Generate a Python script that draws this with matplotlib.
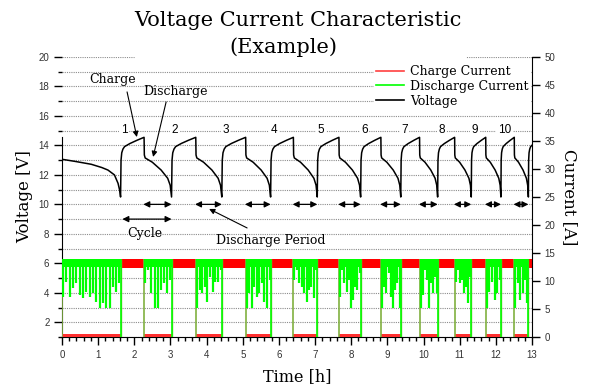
import numpy as np
import matplotlib.pyplot as plt
from matplotlib.ticker import MultipleLocator
from matplotlib.lines import Line2D

SERIF = 'DejaVu Serif'
SANS = 'Liberation Sans'

# discharge periods [h]
dis_start = [0.0, 2.27, 3.70, 5.08, 6.40, 7.66, 8.82, 9.89, 10.86, 11.72, 12.51]
dis_end = [1.62, 3.03, 4.42, 5.77, 7.06, 8.26, 9.37, 10.39, 11.32, 12.14, 12.90]
last_charge_end = 13.27

# voltage
first_dis_t = [0.0, 0.4, 0.81, 1.1, 1.27, 1.45, 1.55, 1.60, 1.62]
first_dis_v = [13.06, 12.9, 12.72, 12.5, 12.33, 12.0, 11.43, 10.9, 10.5]
chg_frac = [0.0, 0.02, 0.05, 0.1, 0.17, 0.4, 0.7, 1.0]
chg_v = [10.5, 13.0, 13.5, 13.75, 13.92, 14.13, 14.35, 14.55]
dis_frac = [0.0, 0.01, 0.04, 0.3, 0.62, 0.86, 0.95, 1.0]
dis_v = [14.55, 13.35, 13.15, 12.86, 12.33, 11.77, 11.3, 10.5]

# currents [A]
dis_current = 14.0
dis_band_low = 12.5
chg_current = 14.0
chg_band_low = 12.3
idle_current = 0.45
dips = [
    [7.2, 9.9, 7.2, 8.7, 9.6, 7.5, 6.9, 8.1, 7.2, 7.8, 6.3, 5.1, 6.0, 5.1, 5.1, 9.0, 8.1, 9.6],
    [9.6, 12.0, 7.8, 5.1, 5.1, 8.4, 9.6, 7.8, 10.2],
    [5.1, 8.4, 7.8, 9.0, 6.3, 10.8, 8.1, 9.9, 9.9, 12.0],
    [5.1, 7.8, 5.1, 9.0, 7.2, 7.8, 9.6, 6.3, 5.1, 10.2],
    [10.2, 12.0, 9.6, 9.0, 7.8, 6.3, 8.4, 9.0, 6.9, 12.0],
    [7.2, 12.0, 9.6, 8.1, 10.2, 5.1, 6.6, 9.0, 8.4, 11.4],
    [5.1, 9.0, 7.8, 11.4, 7.2, 5.1, 8.4, 9.6, 5.1],
    [5.1, 7.5, 12.0, 10.2, 5.1, 9.6, 7.8, 10.8, 7.8],
    [9.9, 12.0, 9.6, 10.2, 7.8, 9.0, 6.0, 10.8],
    [5.1, 8.1, 9.9, 6.6, 7.8, 10.2],
    [5.1, 9.6, 6.6, 7.8, 10.2, 6.0],
]

# build the voltage trace
t_v = list(first_dis_t)
v_v = list(first_dis_v)
for i in range(len(dis_end)):
    c0 = dis_end[i]
    c1 = dis_start[i + 1] if i + 1 < len(dis_start) else last_charge_end
    t_v += [c0 + f * (c1 - c0) for f in chg_frac[1:]]
    v_v += chg_v[1:]
    if i + 1 < len(dis_start):
        d0, d1 = dis_start[i + 1], dis_end[i + 1]
        t_v += [d0 + f * (d1 - d0) for f in dis_frac[1:]]
        v_v += dis_v[1:]

fig = plt.figure(figsize=(5.89, 3.92), dpi=100)
ax = fig.add_axes([62 / 589, 1 - 337 / 392, 470 / 589, 280 / 392])
ax2 = ax.twinx()

ax.plot(t_v, v_v, color='black', lw=1.1)

# charge current (red)
for i in range(len(dis_end)):
    c0 = dis_end[i]
    c1 = dis_start[i + 1] if i + 1 < len(dis_start) else last_charge_end
    ax2.fill_between([c0, c1], chg_band_low, chg_current, color='red', lw=0)
    ax2.vlines([c0], 0, chg_current, color='#8fb040', lw=1)
for s, e in zip(dis_start, dis_end):
    ax2.fill_between([s, e], 0, idle_current, color='#ff3030', lw=0)

# discharge current (green)
for k, (s, e) in enumerate(zip(dis_start, dis_end)):
    ax2.fill_between([s, e], dis_band_low, dis_current, color='#00ff00', lw=0)
    ax2.vlines([s], 0, dis_current, color='#80b040', lw=1.2)
    ax2.vlines([e], 0, dis_current, color='#00ff00', lw=1.2)
    tt = np.linspace(s + 0.03, e - 0.03, len(dips[k]))
    ax2.vlines(tt, dips[k], dis_current, color='#00ff00', lw=1.6)

ax.set_xlim(0, 13)
ax.set_ylim(1, 20)
ax2.set_ylim(0, 50)

ax.xaxis.set_major_locator(MultipleLocator(1))
ax.xaxis.set_minor_locator(MultipleLocator(0.2))
ax.yaxis.set_major_locator(MultipleLocator(2))
ax.yaxis.set_minor_locator(MultipleLocator(1))
ax2.yaxis.set_major_locator(MultipleLocator(5))
ax.set_yticks(range(2, 21, 2))

ax.grid(True, which='both', axis='y', color='#8c8c8c', ls=(0, (1, 1)), lw=0.8)
ax.set_axisbelow(True)

for a in (ax, ax2):
    a.spines['top'].set_visible(False)
ax2.spines['left'].set_visible(False)
ax2.spines['bottom'].set_visible(False)
ax.spines['right'].set_visible(False)
ax.spines['left'].set_bounds(1, 14.6)

ax.tick_params(which='major', direction='out', length=5.5, width=1, labelsize=7, colors='black')
ax.tick_params(which='minor', direction='out', length=3, width=1)
ax2.tick_params(which='major', direction='out', length=5.5, width=1, labelsize=7)
for lab in ax.get_xticklabels() + ax.get_yticklabels() + ax2.get_yticklabels():
    lab.set_family(SANS)
    lab.set_color('#333333')

ax.set_xlabel('Time [h]', family=SERIF, fontsize=11.5, labelpad=6)
ax.set_ylabel('Voltage [V]', family=SERIF, fontsize=12, labelpad=4)
ax2.set_ylabel('Current [A]', family=SERIF, fontsize=12, rotation=270, labelpad=16)

# title with a white box over the top gridline
fig.patches.append(plt.Rectangle((135 / 589, 1 - 59 / 392), 330 / 589, 59 / 392,
                                 transform=fig.transFigure, color='white', zorder=2.5))
fig.text(297.5 / 589, 1 - 26 / 392, 'Voltage Current Characteristic', ha='center',
         va='baseline', family=SERIF, fontsize=15, zorder=3)
fig.text(283 / 589, 1 - 53 / 392, '(Example)', ha='center', va='baseline',
         family=SERIF, fontsize=15, zorder=3)

# cycle numbers
for n in range(10):
    ax.text(dis_end[n] + 0.1, 15.05, str(n + 1), ha='center', va='center', family=SANS,
            fontsize=8.5, bbox=dict(facecolor='white', edgecolor='none', pad=1))

# annotations
arrow = dict(arrowstyle='-|>', color='black', lw=0.8, mutation_scale=8, shrinkA=0, shrinkB=0)
ax.text(1.41, 18.5, 'Charge', ha='center', va='center', family=SERIF, fontsize=9)
ax.annotate('', xy=(2.07, 14.57), xytext=(1.80, 17.63), arrowprops=arrow)
ax.text(3.13, 17.63, 'Discharge', ha='center', va='center', family=SERIF, fontsize=9)
ax.annotate('', xy=(2.52, 13.22), xytext=(2.88, 16.95), arrowprops=arrow)

dbl = dict(arrowstyle='<|-|>', color='black', lw=0.9, mutation_scale=9, shrinkA=0, shrinkB=0)
ax.annotate('', xy=(dis_end[0] + 0.05, 9.0), xytext=(dis_end[1], 9.0), arrowprops=dbl)
ax.text(2.30, 8.0, 'Cycle', ha='center', va='center', family=SERIF, fontsize=9)
for s, e in zip(dis_start[1:], dis_end[1:]):
    ax.annotate('', xy=(s - 0.02, 10.0), xytext=(e, 10.0), arrowprops=dbl)
ax.text(5.77, 7.58, 'Discharge Period', ha='center', va='center', family=SERIF, fontsize=9)
ax.annotate('', xy=(4.07, 9.69), xytext=(5.12, 8.40), arrowprops=arrow)

handles = [Line2D([], [], color='#ff4040', lw=1.2),
           Line2D([], [], color='#00ff00', lw=1.2),
           Line2D([], [], color='black', lw=1.2)]
leg = ax2.legend(handles, ['Charge Current', 'Discharge Current', 'Voltage'],
                 loc='upper right', bbox_to_anchor=(1.0, 0.985), frameon=True,
                 framealpha=1, facecolor='white', edgecolor='none', fancybox=False,
                 prop={'family': SERIF, 'size': 9}, handlelength=2.2, handletextpad=0.5,
                 labelspacing=0.15, borderpad=0.2, borderaxespad=0.1)

fig.savefig('out.png', dpi=100)
